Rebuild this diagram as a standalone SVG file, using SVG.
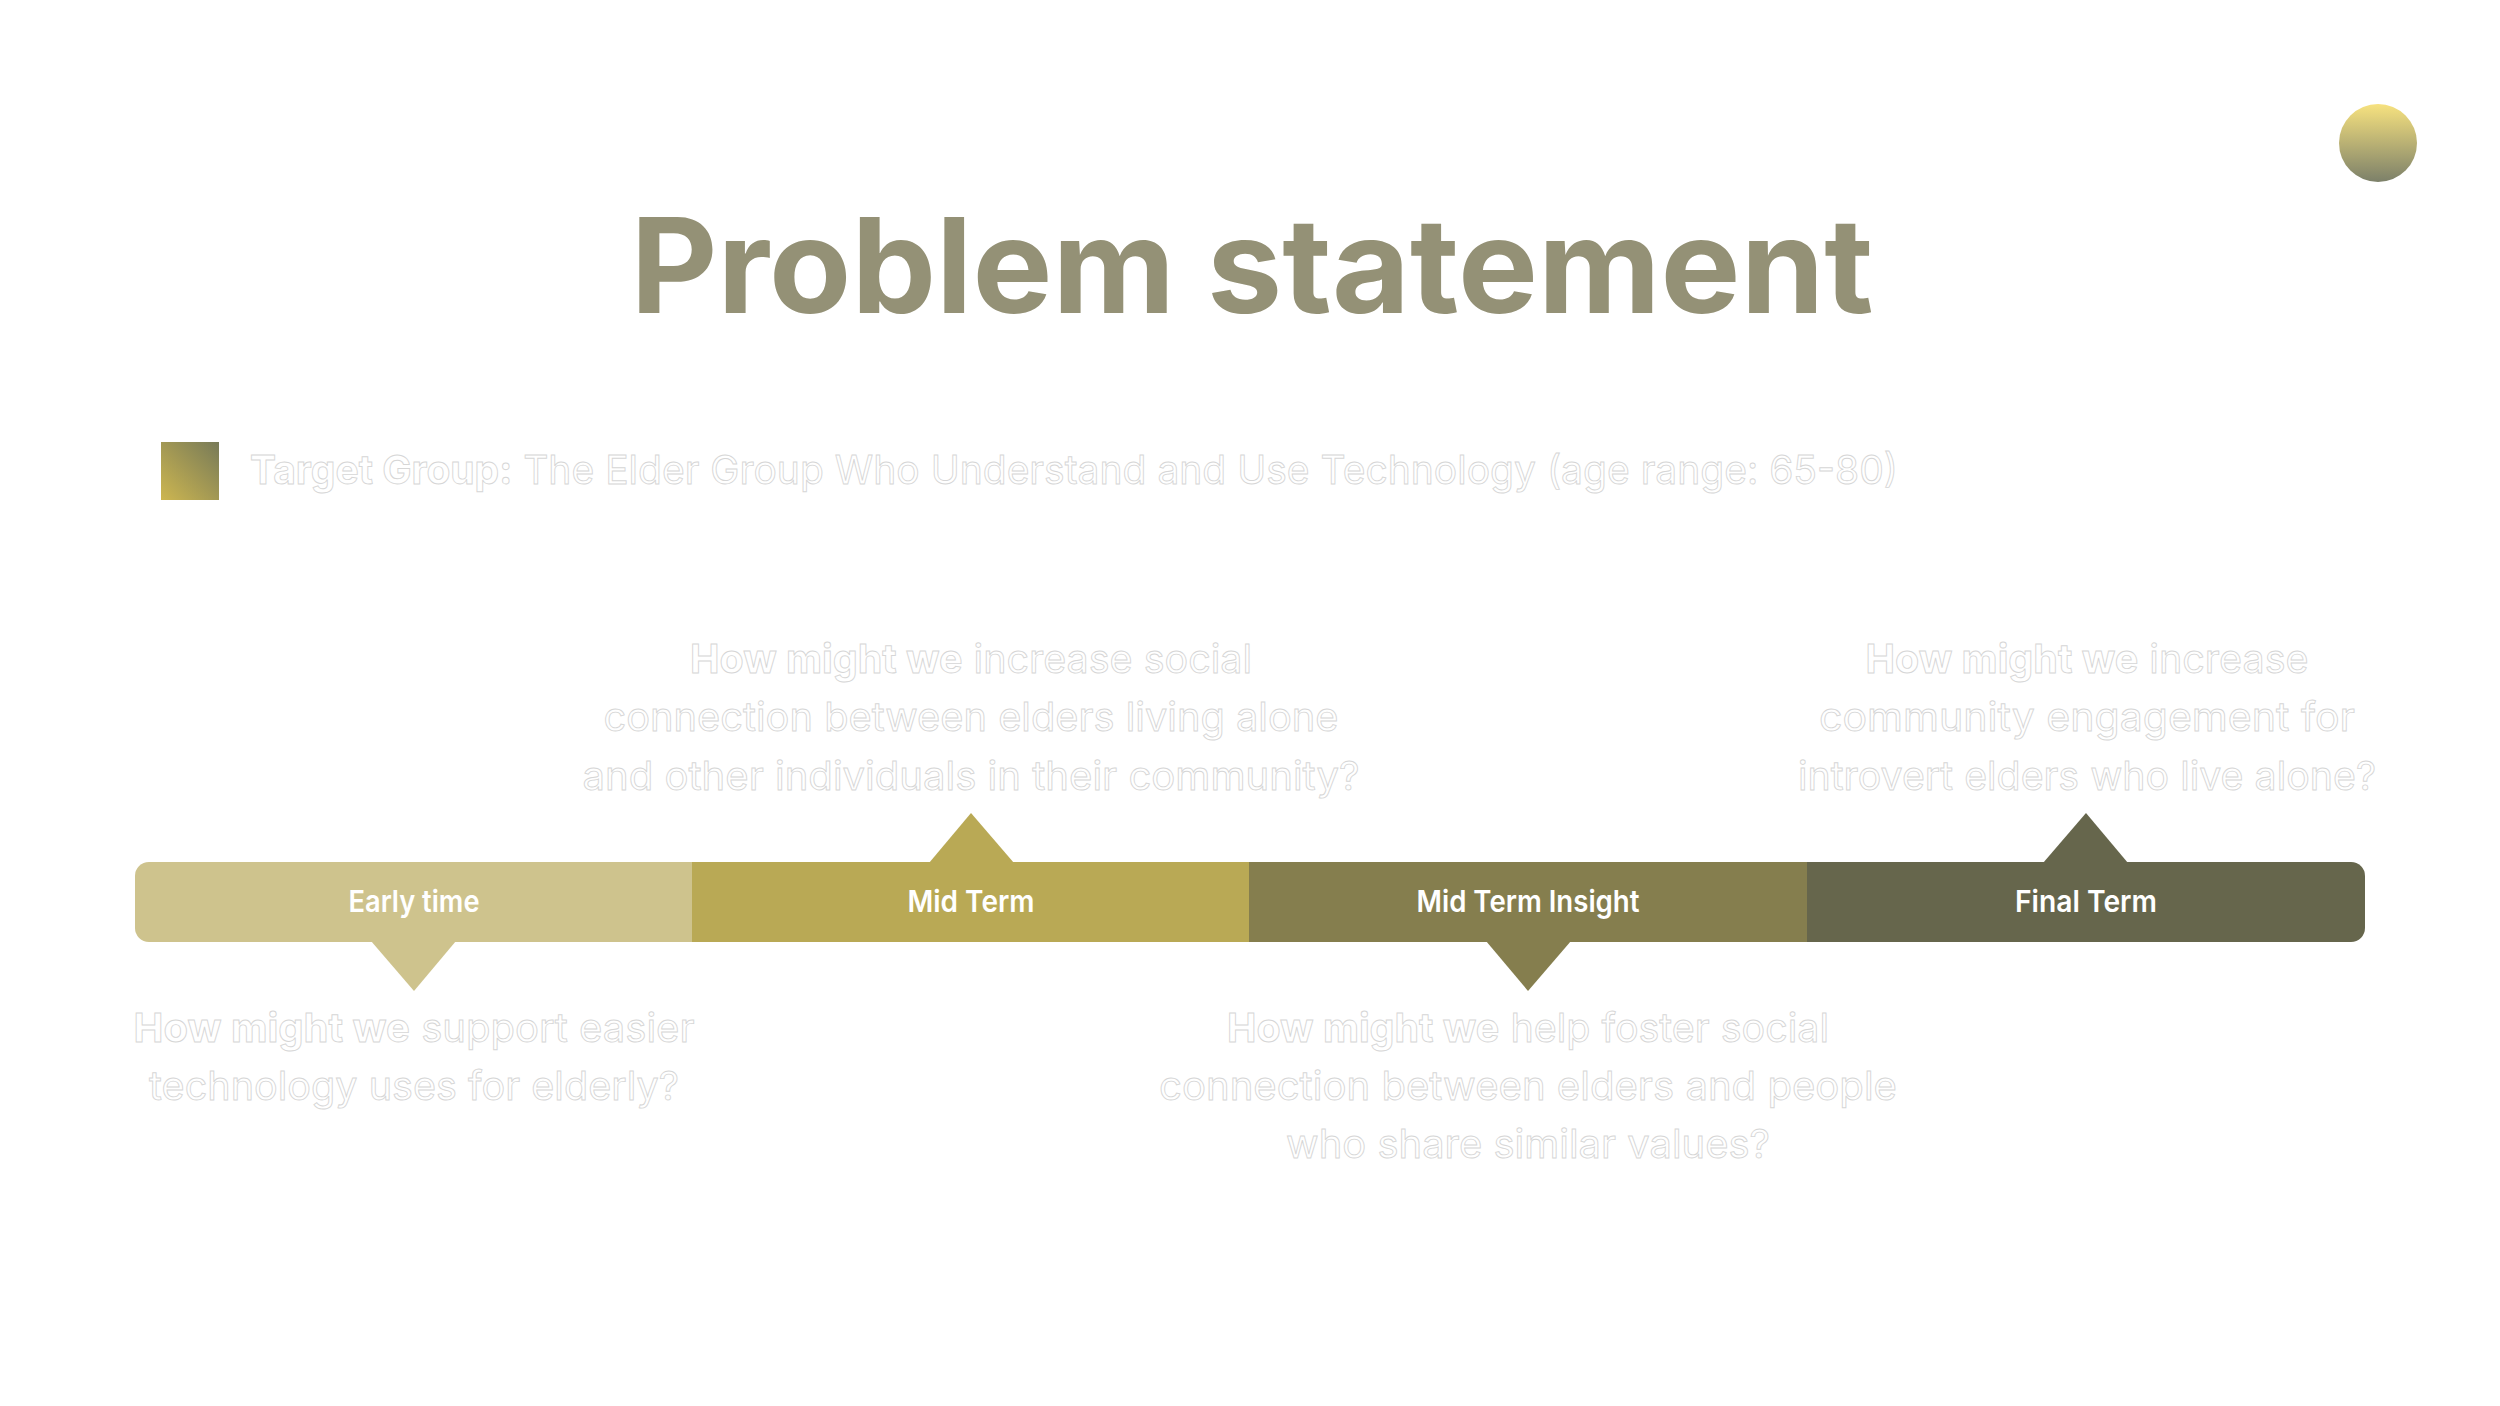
<svg xmlns="http://www.w3.org/2000/svg" width="2500" height="1406" viewBox="0 0 2500 1406">
<style>
.q{font-family:Inter,"Noto Sans","Liberation Sans",sans-serif;font-size:40px;fill:#ffffff;stroke:#d6d6d6;stroke-width:0.9;text-anchor:middle}
.b{font-weight:700}
.r{font-weight:400}
.lbl{font-family:Inter,"Noto Sans","Liberation Sans",sans-serif;font-size:30px;font-weight:600;fill:#ffffff;text-anchor:middle}
</style>
<defs>
<linearGradient id="gCircle" x1="0" y1="0" x2="0" y2="1">
<stop offset="0" stop-color="#f7e27f"/>
<stop offset="1" stop-color="#7c8069"/>
</linearGradient>
<linearGradient id="gSquare" x1="0" y1="1" x2="1" y2="0">
<stop offset="0" stop-color="#cdb650"/>
<stop offset="1" stop-color="#777a58"/>
</linearGradient>
<clipPath id="barClip">
<rect x="135" y="862" width="2230" height="80" rx="14" ry="14"/>
</clipPath>
</defs>
<rect width="2500" height="1406" fill="#ffffff"/>

<g id="title">
<text x="1252" y="313" font-family="Inter,'Noto Sans','Liberation Sans',sans-serif" font-size="132" font-weight="700" fill="#949176" text-anchor="middle" textLength="1243" lengthAdjust="spacingAndGlyphs">Problem statement</text>
</g>

<g id="decor-circle">
<circle cx="2378" cy="143" r="39" fill="url(#gCircle)"/>
</g>

<g id="target-group">
<rect x="161" y="442" width="58" height="58" fill="url(#gSquare)"/>
<text class="q" x="250" y="484" style="text-anchor:start" textLength="1648" lengthAdjust="spacingAndGlyphs"><tspan class="b">Target Group:</tspan><tspan class="r"> The Elder Group Who Understand and Use Technology (age range: 65-80)</tspan></text>
</g>

<g id="connectors">
<polygon points="371,941 456,941 414,991" fill="#cec38d"/>
<polygon points="929,863 1014,863 971,813" fill="#b9a955"/>
<polygon points="1486,941 1571,941 1528,991" fill="#857e4e"/>
<polygon points="2043,863 2128,863 2086,813" fill="#66664c"/>
</g>

<g id="timeline-bar" clip-path="url(#barClip)">
<rect x="135" y="862" width="557" height="80" fill="#cec38d"/>
<rect x="692" y="862" width="557" height="80" fill="#b9a955"/>
<rect x="1249" y="862" width="558" height="80" fill="#857e4e"/>
<rect x="1807" y="862" width="558" height="80" fill="#66664c"/>
</g>

<g id="node-early">
<text class="lbl" x="414" y="912" textLength="131" lengthAdjust="spacingAndGlyphs">Early time</text>
<text class="q" x="414" y="1042" textLength="561" lengthAdjust="spacingAndGlyphs"><tspan class="b">How might we</tspan><tspan class="r"> support easier</tspan></text>
<text class="q r" x="414" y="1100" textLength="530" lengthAdjust="spacingAndGlyphs">technology uses for elderly?</text>
</g>

<g id="node-mid">
<text class="lbl" x="971" y="912" textLength="127" lengthAdjust="spacingAndGlyphs">Mid Term</text>
<text class="q" x="971" y="673" textLength="562" lengthAdjust="spacingAndGlyphs"><tspan class="b">How might we</tspan><tspan class="r"> increase social</tspan></text>
<text class="q r" x="971" y="731" textLength="735" lengthAdjust="spacingAndGlyphs">connection between elders living alone</text>
<text class="q r" x="971" y="790" textLength="777" lengthAdjust="spacingAndGlyphs">and other individuals in their community?</text>
</g>

<g id="node-mid-insight">
<text class="lbl" x="1528" y="912" textLength="223" lengthAdjust="spacingAndGlyphs">Mid Term Insight</text>
<text class="q" x="1528" y="1042" textLength="602" lengthAdjust="spacingAndGlyphs"><tspan class="b">How might we</tspan><tspan class="r"> help foster social</tspan></text>
<text class="q r" x="1528" y="1100" textLength="738" lengthAdjust="spacingAndGlyphs">connection between elders and people</text>
<text class="q r" x="1528" y="1158" textLength="484" lengthAdjust="spacingAndGlyphs">who share similar values?</text>
</g>

<g id="node-final">
<text class="lbl" x="2086" y="912" textLength="142" lengthAdjust="spacingAndGlyphs">Final Term</text>
<text class="q" x="2087" y="673" textLength="443" lengthAdjust="spacingAndGlyphs"><tspan class="b">How might we</tspan><tspan class="r"> increase</tspan></text>
<text class="q r" x="2087" y="731" textLength="536" lengthAdjust="spacingAndGlyphs">community engagement for</text>
<text class="q r" x="2087" y="790" textLength="578" lengthAdjust="spacingAndGlyphs">introvert elders who live alone?</text>
</g>
</svg>
